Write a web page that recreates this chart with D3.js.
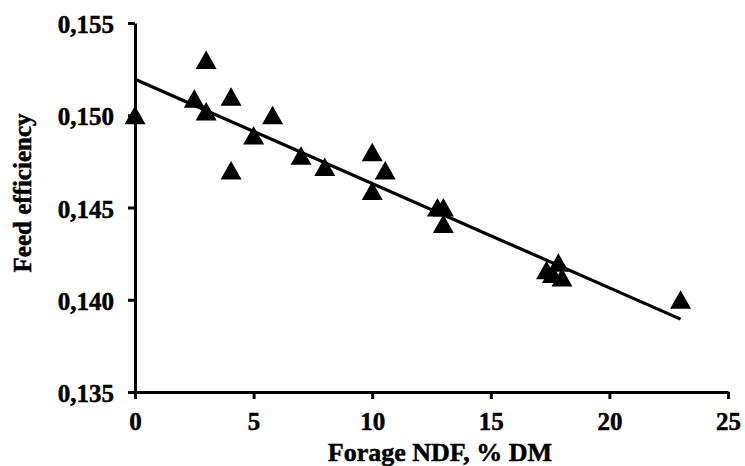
<!DOCTYPE html>
<html>
<head>
<meta charset="utf-8">
<script src="https://cdn.jsdelivr.net/npm/d3@7"></script>
<style>
  html, body { margin: 0; padding: 0; background: #fff; }
  svg { display: block; }
  text { font-family: "Liberation Serif", "Times New Roman", serif; font-weight: bold; fill: #000; stroke: #000; stroke-width: 0.5px; }
</style>
</head>
<body>
<svg id="chart" width="745" height="466"></svg>
<script>
// Data
const forageNDF = [0, 2.5, 3.0, 3.0, 4.05, 4.05, 5.0, 5.8, 7.0, 8.0, 10.0, 10.0, 10.55, 12.75, 13.0, 13.0, 17.35, 17.6, 17.85, 18.0, 23.0];
const feedEff   = [0.1500, 0.1509, 0.1530, 0.1502, 0.1510, 0.1470, 0.1489, 0.1500, 0.1478, 0.1472, 0.1480, 0.1459, 0.1470, 0.1450, 0.1450, 0.1441, 0.1416, 0.1414, 0.1420, 0.1412, 0.1400];
const fitX = [0, 23];
const fitY = [0.15195, 0.13895];
const xTicks = [0, 5, 10, 15, 20, 25];
const yTicks = [0.135, 0.140, 0.145, 0.150, 0.155];
const xTitle = "Forage NDF, % DM";
const yTitle = "Feed efficiency";

const svg = d3.select("#chart");
const x = d3.scaleLinear().domain([0, 25]).range([135, 728]);
const y = d3.scaleLinear().domain([0.135, 0.155]).range([392, 23]);

const fmt = d => d.toFixed(3).replace(".", ",");

// Y axis
const yAxis = svg.append("g").attr("transform", `translate(${x(0)},0)`)
  .call(d3.axisLeft(y).tickValues(yTicks).tickFormat(fmt).tickSize(7).tickSizeOuter(0).tickPadding(14));
// X axis
const xAxis = svg.append("g").attr("transform", `translate(0,${y(0.135)})`)
  .call(d3.axisBottom(x).tickValues(xTicks).tickFormat(d3.format("d")).tickSize(7).tickSizeOuter(0).tickPadding(12));

[yAxis, xAxis].forEach(g => {
  g.select(".domain").attr("stroke", "#000").attr("stroke-width", 3);
  g.selectAll(".tick line").attr("stroke", "#000").attr("stroke-width", 3);
  g.selectAll(".tick text").style("font-family", '"Liberation Serif", serif')
    .style("font-weight", "bold").style("font-size", "25px").attr("fill", "#000");
});
yAxis.selectAll(".tick text").attr("dy", "0.38em");
xAxis.selectAll(".tick text").attr("dy", "0.75em");

// Regression line
svg.append("line")
  .attr("x1", x(fitX[0])).attr("y1", y(fitY[0]))
  .attr("x2", x(fitX[1])).attr("y2", y(fitY[1]))
  .attr("stroke", "#000").attr("stroke-width", 3.2);

// Triangles
const pts = forageNDF.map((v, i) => ({ x: v, y: feedEff[i] }));
const tri = "M0,-10 L10.5,8.5 L-10.5,8.5 Z";
svg.append("g").selectAll("path").data(pts).join("path")
  .attr("d", tri)
  .attr("transform", d => `translate(${x(d.x)},${y(d.y) + 0.5})`)
  .attr("fill", "#000");

// Titles
svg.append("text")
  .attr("x", 440).attr("y", 461)
  .attr("text-anchor", "middle").style("font-size", "26px")
  .text(xTitle);
svg.append("text")
  .attr("transform", `translate(31,193) rotate(-90)`)
  .attr("text-anchor", "middle").style("font-size", "25px")
  .text(yTitle);
</script>
</body>
</html>
